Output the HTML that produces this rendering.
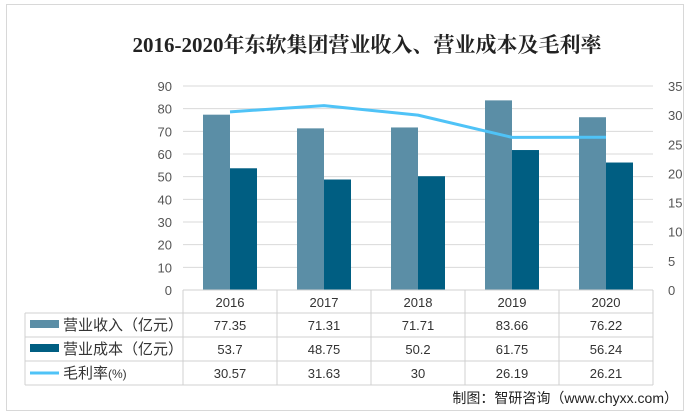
<!DOCTYPE html>
<html><head><meta charset="utf-8"><style>
body{margin:0;background:#fff;width:686px;height:415px;overflow:hidden;font-family:"Liberation Sans","Noto Sans CJK SC",sans-serif}
</style></head><body>
<div style="position:absolute;left:6px;top:4px;width:676px;height:405px;border:1px solid #d8d8d8"></div>
<div style="position:absolute;left:0;width:734px;top:29px;text-align:center;font:bold 21px 'Liberation Serif','Noto Serif CJK SC',serif;color:#222">2016-2020年东软集团营业收入、营业成本及毛利率</div>
<svg id="c" width="686" height="415" style="position:absolute;left:0;top:0"></svg>
<div style="position:absolute;right:8px;top:388px;font-size:14px;color:#222">制图：智研咨询（www.chyxx.com）</div>
<script>
const years=["2016","2017","2018","2019","2020"];
const revenue=[77.35,71.31,71.71,83.66,76.22];
const cost=[53.7,48.75,50.2,61.75,56.24];
const margin=[30.57,31.63,30,26.19,26.21];
const revLabels=["77.35","71.31","71.71","83.66","76.22"];
const costLabels=["53.7","48.75","50.2","61.75","56.24"];
const marginLabels=["30.57","31.63","30","26.19","26.21"];
const leftTicks=[0,10,20,30,40,50,60,70,80,90];
const rightTicks=[0,5,10,15,20,25,30,35];
const svg=document.getElementById('c');const NS='http://www.w3.org/2000/svg';
function mk(t,a,txt){const e=document.createElementNS(NS,t);for(const k in a)e.setAttribute(k,a[k]);if(txt!==undefined)e.textContent=txt;svg.appendChild(e);return e;}
const X0=183,X1=653,Y0=290,Y1=86,cw=(X1-X0)/years.length;
const yL=v=>Y0-(v/90)*(Y0-Y1), yR=v=>Y0-(v/35)*(Y0-Y1);
leftTicks.forEach(t=>{let g=mk('line',{x1:X0,x2:X1,y1:yL(t),y2:yL(t),stroke:'#d9d9d9'});
let l=mk('text',{x:172,y:yL(t)+5,'text-anchor':'end','font-size':13,fill:'#555'},t);});
rightTicks.forEach(t=>{let l=mk('text',{x:668,y:yR(t)+5,'text-anchor':'start','font-size':13,fill:'#555'},t);});
years.forEach((y,i)=>{const cx=X0+cw*i+cw/2;
let b=mk('rect',{x:cx-27,y:yL(revenue[i]),width:27,height:Y0-yL(revenue[i]),fill:'#5b8ea6'});
let c=mk('rect',{x:cx,y:yL(cost[i]),width:27,height:Y0-yL(cost[i]),fill:'#005e82'});});
let pts=margin.map((m,i)=>(X0+cw*i+cw/2)+','+yR(m)).join(' ');
let pl=mk('polyline',{points:pts,fill:'none',stroke:'#4fc3f7','stroke-width':3,'stroke-linejoin':'round'});
const rows=[313,337,361,385];
mk('line',{x1:X0,x2:X1,y1:Y0,y2:Y0,stroke:'#d0d0d0'});
rows.forEach(r=>mk('line',{x1:25,x2:X1,y1:r,y2:r,stroke:'#d0d0d0'}));
mk('line',{x1:25,x2:25,y1:313,y2:385,stroke:'#d0d0d0'});
for(let i=0;i<=years.length;i++)mk('line',{x1:X0+cw*i,x2:X0+cw*i,y1:Y0,y2:385,stroke:'#d0d0d0'});
years.forEach((y,i)=>{const cx=X0+cw*i+cw/2;
let t=mk('text',{x:cx,y:307,'text-anchor':'middle','font-size':13,fill:'#333'},y);
[revLabels,costLabels,marginLabels].forEach((arr,k)=>{let v=mk('text',{x:cx,y:330+24*k,'text-anchor':'middle','font-size':13,fill:'#333'},arr[i]);});});
let k1=mk('rect',{x:30,y:320,width:29,height:8,fill:'#5b8ea6'});
let k2=mk('rect',{x:30,y:344,width:29,height:8,fill:'#005e82'});
let k3=mk('line',{x1:30,x2:59,y1:373,y2:373,stroke:'#4fc3f7','stroke-width':3});
[["营业收入（亿元）",330],["营业成本（亿元）",354]].forEach(([s,y])=>{let t=mk('text',{x:63,y:y,'font-size':15,fill:'#333'},s);});
let m=mk('text',{x:63,y:378,'font-size':15,fill:'#333'},'毛利率');
let m2=mk('text',{x:108,y:378,'font-size':12,fill:'#333'},'(%)');
</script>
</body></html>
